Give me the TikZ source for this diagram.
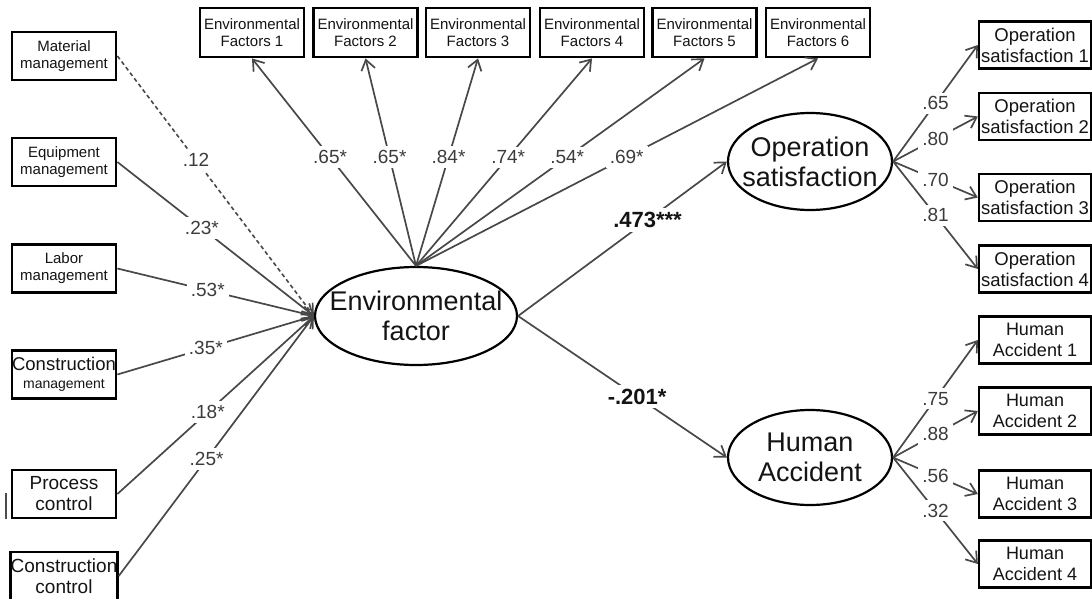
\documentclass[tikz,border=0pt]{standalone}
\usepackage{fontspec}
\setmainfont{Liberation Sans}
\usetikzlibrary{shapes.geometric,arrows.meta}
\definecolor{linegray}{RGB}{72,72,72}
\definecolor{labelgray}{RGB}{60,60,60}
\definecolor{txt}{RGB}{20,20,20}
\begin{document}
\begin{tikzpicture}[x=1pt,y=-1pt,
  box/.style={draw=black, line width=2.8pt, fill=white, inner sep=0pt,
    minimum width=104pt, minimum height=48pt, align=center, text=txt},
  smallbox/.style={box, font=\fontsize{15}{17}\selectfont},
  bigbox/.style={box, font=\fontsize{19}{21}\selectfont},
  rbox/.style={box, line width=2.3pt, minimum width=112pt, minimum height=47pt,
    font=\fontsize{18.5}{21}\selectfont},
  latent/.style={ellipse, draw=black, line width=2.2pt, fill=white, inner sep=0pt},
  lattext/.style={font=\fontsize{27}{30}\selectfont, align=center, text=txt},
  conn/.style={draw=linegray, line width=1.7pt},
  arr/.style={conn, -{Straight Barb[length=10pt,width=14pt]}},
  dashconn/.style={arr, line width=1.6pt, dash pattern=on 4pt off 3pt},
  lbl/.style={fill=white, inner sep=4pt, text=labelgray, font=\fontsize{19}{19}\selectfont},
  blbl/.style={fill=white, inner sep=4pt, text=txt, font=\bfseries\fontsize{22}{22}\selectfont}
]
\useasboundingbox (0,0) rectangle (1092,599);

% latent variables
\node[latent, minimum width=202pt, minimum height=98pt,
  label={[lattext]center:{Environmental\\factor}}] (EF) at (416,316) {};
\node[latent, minimum width=164pt, minimum height=97pt,
  label={[lattext]center:{Operation\\satisfaction}}] (OS) at (810,161.5) {};
\node[latent, minimum width=164pt, minimum height=95pt,
  label={[lattext]center:{Human\\Accident}}] (HA) at (810,457.5) {};

% left boxes
\node[smallbox] (mm) at (64,56) {Material\\management};
\node[smallbox] (em) at (64,162) {Equipment\\management};
\node[smallbox] (lm) at (64,268.5) {Labor\\management};
\node[box, font=\fontsize{18.5}{18}\selectfont] (cm) at (64,374.5)
  {Construction\\{\fontsize{14}{14}\selectfont management}};
\node[bigbox] (pc) at (64,494) {Process\\control};
\node[bigbox] (cc) at (64,576) {Construction\\control};

% top boxes
\node[smallbox, minimum height=49pt] (t1) at (252,32.5) {Environmental\\Factors 1};
\node[smallbox, minimum height=49pt] (t2) at (365.5,32.5) {Environmental\\Factors 2};
\node[smallbox, minimum height=49pt] (t3) at (478,32.5) {Environmental\\Factors 3};
\node[smallbox, minimum height=49pt] (t4) at (592,32.5) {Environmental\\Factors 4};
\node[smallbox, minimum height=49pt] (t5) at (704.5,32.5) {Environmental\\Factors 5};
\node[smallbox, minimum height=49pt] (t6) at (818,32.5) {Environmental\\Factors 6};

% right boxes
\node[rbox] (o1) at (1035,45) {Operation\\satisfaction 1};
\node[rbox] (o2) at (1035,116.5) {Operation\\satisfaction 2};
\node[rbox] (o3) at (1035,197.5) {Operation\\satisfaction 3};
\node[rbox] (o4) at (1035,269) {Operation\\satisfaction 4};
\node[rbox, font=\fontsize{18}{21}\selectfont] (h1) at (1035,340) {Human\\Accident 1};
\node[rbox, font=\fontsize{18}{21}\selectfont] (h2) at (1035,411) {Human\\Accident 2};
\node[rbox, font=\fontsize{18}{21}\selectfont] (h3) at (1035,494) {Human\\Accident 3};
\node[rbox, font=\fontsize{18}{21}\selectfont] (h4) at (1035,564) {Human\\Accident 4};

% left paths
\draw[dashconn] (mm.east) -- node[lbl,pos=0.40]{.12} (EF.west);
\draw[arr] (em.east) -- node[lbl,pos=0.43]{.23*} (EF.west);
\draw[arr] (lm.east) -- node[lbl,pos=0.46]{.53*} (EF.west);
\draw[arr] (cm.east) -- node[lbl,pos=0.45]{.35*} (EF.west);
\draw[arr] (pc.east) -- node[lbl,pos=0.46]{.18*} (EF.west);
\draw[arr] (cc.east) -- node[lbl,pos=0.45]{.25*} (EF.west);

% top loadings
\draw[arr] (EF.north) -- node[lbl,pos=0.524]{.65*} (t1.south);
\draw[arr] (EF.north) -- node[lbl,pos=0.524]{.65*} (t2.south);
\draw[arr] (EF.north) -- node[lbl,pos=0.524]{.84*} (t3.south);
\draw[arr] (EF.north) -- node[lbl,pos=0.524]{.74*} (t4.south);
\draw[arr] (EF.north) -- node[lbl,pos=0.524]{.54*} (t5.south);
\draw[arr] (EF.north) -- node[lbl,pos=0.524]{.69*} (t6.south);

% structural paths
\draw[arr] (EF.east) -- node[blbl,pos=0.62]{.473***} (OS.west);
\draw[arr] (EF.east) -- node[blbl,pos=0.57]{-.201*} (HA.west);

% operation satisfaction loadings
\draw[arr] (OS.east) -- node[lbl,pos=0.5]{.65} (o1.west);
\draw[arr] (OS.east) -- node[lbl,pos=0.5]{.80} (o2.west);
\draw[arr] (OS.east) -- node[lbl,pos=0.5]{.70} (o3.west);
\draw[arr] (OS.east) -- node[lbl,pos=0.5]{.81} (o4.west);

% human accident loadings
\draw[arr] (HA.east) -- node[lbl,pos=0.5]{.75} (h1.west);
\draw[arr] (HA.east) -- node[lbl,pos=0.5]{.88} (h2.west);
\draw[arr] (HA.east) -- node[lbl,pos=0.5]{.56} (h3.west);
\draw[arr] (HA.east) -- node[lbl,pos=0.5]{.32} (h4.west);

% stray mark at left
\coordinate (s1) at (6,493);
\coordinate (s2) at (6,519);
\draw[line width=1.5pt, black!70] (s1) -- (s2);
\end{tikzpicture}
\end{document}
